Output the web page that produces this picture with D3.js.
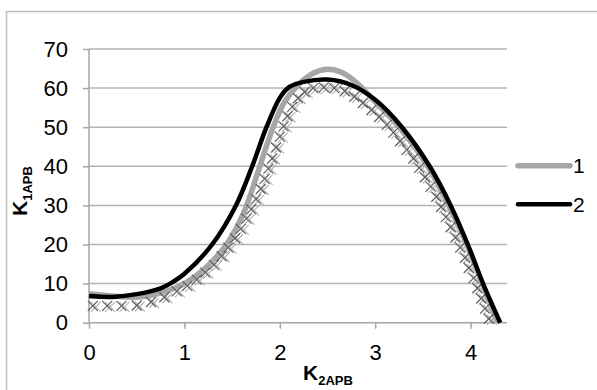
<!DOCTYPE html>
<html><head><meta charset="utf-8">
<script src="https://cdn.jsdelivr.net/npm/d3@7"></script>
<style>
html,body{margin:0;padding:0;background:#fff;}
svg{display:block;font-family:"Liberation Sans",Arial,sans-serif;}
</style></head>
<body>
<svg id="chart" width="597" height="390"></svg>
<script>
// ---- data ----
const xTicks = [0, 1, 2, 3, 4];
const yTicks = [0, 10, 20, 30, 40, 50, 60, 70];
const seriesNames = ["1", "2"];
// series 1 (gray smooth line)
const s1x = [0, 0.25, 0.5, 0.75, 1.0, 1.2, 1.44, 1.62, 1.79, 1.93, 2.05, 2.2, 2.35, 2.5, 2.65, 2.8, 3.0, 3.27, 3.55, 3.77, 3.96, 4.12, 4.28];
const s1y = [7.4, 6.8, 6.5, 7.6, 10.0, 13.5, 20, 28, 40, 50, 56.5, 61, 63.8, 64.8, 64, 61.5, 56.5, 49.5, 40, 30, 20, 10, 0];
// series 2 (black smooth line)
const s2x = [0, 0.25, 0.5, 0.75, 0.85, 1.0, 1.29, 1.54, 1.71, 1.86, 2.0, 2.1, 2.25, 2.5, 2.75, 3.0, 3.28, 3.57, 3.79, 3.97, 4.13, 4.31];
const s2y = [6.8, 6.6, 7.3, 8.8, 10, 12.5, 20, 30, 40, 50, 57.5, 60.3, 61.6, 62.2, 60.8, 57, 50, 40, 30, 20, 10, 0];
// X markers (unlabelled series)
const mx = [0.04, 0.19, 0.34, 0.50, 0.65, 0.79, 0.92, 1.03, 1.13, 1.22, 1.31, 1.39, 1.46, 1.53, 1.59, 1.65, 1.70, 1.75, 1.80, 1.84, 1.88, 1.92, 1.96, 2.00, 2.04, 2.08, 2.13, 2.19, 2.26, 2.35, 2.46, 2.57, 2.68, 2.78, 2.87, 2.96, 3.04, 3.12, 3.19, 3.26, 3.33, 3.40, 3.46, 3.52, 3.58, 3.64, 3.69, 3.74, 3.79, 3.84, 3.89, 3.94, 3.98, 4.03, 4.07, 4.11, 4.15, 4.19];
const my = [4.3, 4.3, 4.3, 4.4, 5.3, 6.5, 8.0, 9.4, 11.0, 12.8, 14.8, 17.0, 19.2, 21.6, 24.0, 26.6, 29.0, 31.6, 34.2, 36.8, 39.4, 42.0, 44.8, 47.6, 50.2, 52.8, 55.2, 57.4, 59.0, 60.0, 60.2, 60.0, 59.2, 57.8, 56.2, 54.4, 52.6, 50.6, 48.6, 46.4, 44.2, 42.0, 39.6, 37.2, 34.8, 32.2, 29.6, 27.0, 24.4, 21.8, 19.2, 16.6, 14.0, 11.4, 8.8, 6.2, 3.6, 1.0];

// ---- drawing ----
const svg = d3.select("#chart");
const x = d3.scaleLinear().domain([0, 4.36]).range([89, 505]);
const y = d3.scaleLinear().domain([0, 70]).range([322.7, 49]);

// outer border (left + top)
svg.append("path").attr("d", "M6.5,390V11.5H597").attr("fill", "none")
  .attr("stroke", "#bdbdbd").attr("stroke-width", 1.5);

// gridlines
svg.append("g").selectAll("line").data(yTicks.filter(d => d > 0)).join("line")
  .attr("x1", 89).attr("x2", 507)
  .attr("y1", d => y(d)).attr("y2", d => y(d))
  .attr("stroke", "#b3b3b3").attr("stroke-width", 1.5);

// y axis
const yAxis = d3.axisLeft(y).tickValues(yTicks).tickFormat(d3.format("d")).tickSize(6).tickPadding(15);
const gy = svg.append("g").attr("transform", "translate(89,0)").call(yAxis);
// x axis
const xAxis = d3.axisBottom(x).tickValues(xTicks).tickFormat(d3.format("d")).tickSize(6).tickPadding(16);
const gx = svg.append("g").attr("transform", `translate(0,${y(0)})`).call(xAxis);
[gx, gy].forEach(g => {
  g.select(".domain").attr("stroke", "#a6a6a6").attr("stroke-width", 1.5);
  g.selectAll(".tick line").attr("stroke", "#a6a6a6").attr("stroke-width", 1.5);
  g.selectAll(".tick text").attr("fill", "#000").attr("font-size", 22)
    .attr("font-family", "Liberation Sans, Arial, sans-serif");
});
gx.select(".domain").attr("d", `M${x(0)},0H507`);
gy.select(".domain").attr("d", `M0,${y(0)}V${y(70)}`);

const line = d3.line().x(d => x(d[0])).y(d => y(d[1])).curve(d3.curveCatmullRom.alpha(0.5));
const d1 = s1x.map((v, i) => [v, s1y[i]]);
const d2 = s2x.map((v, i) => [v, s2y[i]]);
const dm = mx.map((v, i) => [v, my[i]]);

svg.append("path").datum(d1).attr("d", line).attr("fill", "none")
  .attr("stroke", "#a6a6a6").attr("stroke-width", 5.5).attr("stroke-linejoin", "round");

// X markers
const mk = svg.append("g");
const r = 5;
mk.selectAll("path.l").data(dm).join("path").attr("class", "l")
  .attr("d", d => `M${x(d[0]) + 3 - r},${y(d[1]) + 1 - r}l${2 * r},${2 * r}M${x(d[0]) + 3 - r},${y(d[1]) + 1 + r}l${2 * r},${-2 * r}`)
  .attr("stroke", "#b5b5b5").attr("stroke-width", 1.2).attr("fill", "none");
mk.selectAll("path.d").data(dm).join("path").attr("class", "d")
  .attr("d", d => `M${x(d[0]) - r},${y(d[1]) - r}l${2 * r},${2 * r}M${x(d[0]) - r},${y(d[1]) + r}l${2 * r},${-2 * r}`)
  .attr("stroke", "#5e5e5e").attr("stroke-width", 1.2).attr("fill", "none");

svg.append("path").datum(d2).attr("d", line).attr("fill", "none")
  .attr("stroke", "#000").attr("stroke-width", 4.5).attr("stroke-linejoin", "round");

// legend
const legColors = ["#a6a6a6", "#000"];
const legW = [5.5, 4.5];
const leg = svg.append("g");
seriesNames.forEach((n, i) => {
  const ly = 165.7 + i * 38.5;
  leg.append("line").attr("x1", 518).attr("x2", 570).attr("y1", ly).attr("y2", ly)
    .attr("stroke", legColors[i]).attr("stroke-width", legW[i]).attr("stroke-linecap", "round");
  leg.append("text").attr("x", 573).attr("y", ly + 7.5).attr("font-size", 21).text(n);
});

// axis titles
const xt = svg.append("text").attr("x", 303).attr("y", 380).attr("font-weight", "bold").attr("font-size", 21);
xt.append("tspan").text("K");
xt.append("tspan").attr("font-size", 13).attr("dy", 5).text("2APB");
const yt = svg.append("text").attr("transform", "translate(27,216) rotate(-90)").attr("font-weight", "bold").attr("font-size", 21);
yt.append("tspan").text("K");
yt.append("tspan").attr("font-size", 13).attr("dy", 5).text("1APB");
</script>
</body></html>
